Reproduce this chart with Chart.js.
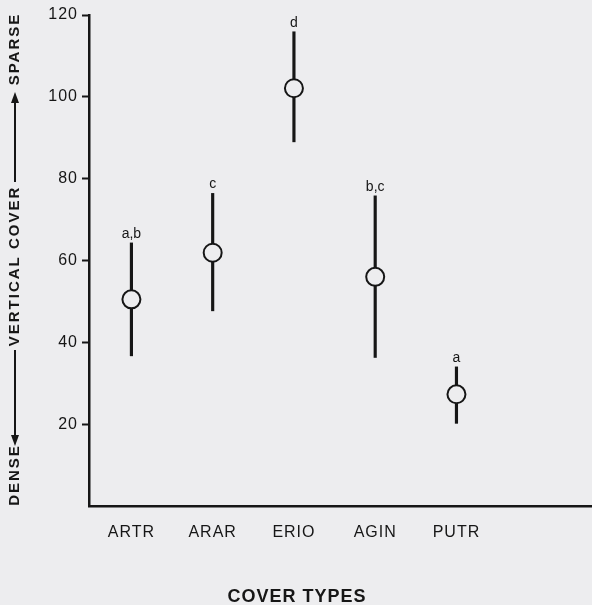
<!DOCTYPE html>
<html>
<head>
<meta charset="utf-8">
<script src="https://cdn.jsdelivr.net/npm/chart.js@4.4.1/dist/chart.umd.min.js"></script>
<style>
  body { margin: 0; background: #ededef; }
  #wrap { width: 592px; height: 605px; }
</style>
</head>
<body>
<div id="wrap"><canvas id="chart-ctx" width="592" height="605"></canvas></div>
<script>
const coverTypes = ["ARTR", "ARAR", "ERIO", "AGIN", "PUTR"];
const meanCover = [50.5, 61.9, 102.1, 56.0, 27.3];
const upperCover = [64.3, 76.4, 115.9, 75.8, 34.0];
const lowerCover = [36.7, 47.7, 89.0, 36.3, 20.2];
const groupLetters = ["a,b", "c", "d", "b,c", "a"];
const yTickValues = [20, 40, 60, 80, 100, 120];

const paper = "#ededef";
const ink = "#161616";

// paper background + letter spacing for the typewriter-ish labels
const paperPlugin = {
    id: "paper",
    beforeDraw(chart) {
        const ctx = chart.ctx;
        ctx.save();
        ctx.fillStyle = paper;
        ctx.fillRect(0, 0, chart.width, chart.height);
        ctx.restore();
        ctx.letterSpacing = "1px";
    }
};

// significance letters above each range line
const letterPlugin = {
    id: "letters",
    afterDatasetsDraw(chart) {
        const ctx = chart.ctx;
        const x = chart.scales.x;
        const y = chart.scales.y;
        ctx.save();
        ctx.fillStyle = ink;
        ctx.font = "14px 'Liberation Sans', Arial, sans-serif";
        ctx.letterSpacing = "0px";
        ctx.textAlign = "center";
        ctx.textBaseline = "alphabetic";
        groupLetters.forEach((txt, i) => {
            ctx.fillText(txt, x.getPixelForValue(i + 1), y.getPixelForValue(upperCover[i]) - 5);
        });
        ctx.restore();
    }
};

function arrowHead(ctx, x, y, dir) {
    ctx.beginPath();
    ctx.moveTo(x, y);
    ctx.lineTo(x - 4, y - dir * 11);
    ctx.lineTo(x + 4, y - dir * 11);
    ctx.closePath();
    ctx.fill();
}

// axis titles: rotated y title with arrows, and the x title
const titlePlugin = {
    id: "titles",
    afterDraw(chart) {
        const ctx = chart.ctx;
        ctx.save();
        ctx.fillStyle = ink;
        ctx.strokeStyle = ink;
        ctx.lineWidth = 2;
        ctx.font = "bold 15px 'Liberation Sans', Arial, sans-serif";
        ctx.letterSpacing = "2px";
        ctx.textAlign = "center";
        ctx.textBaseline = "middle";

        const tx = 15;
        const words = [["SPARSE", 49], ["VERTICAL COVER", 266], ["DENSE", 475]];
        words.forEach(([w, cy]) => {
            ctx.save();
            ctx.translate(tx, cy);
            ctx.rotate(-Math.PI / 2);
            ctx.fillText(w, 0, 0);
            ctx.restore();
        });

        ctx.beginPath();
        ctx.moveTo(tx, 182);
        ctx.lineTo(tx, 100);
        ctx.moveTo(tx, 350);
        ctx.lineTo(tx, 436);
        ctx.stroke();
        arrowHead(ctx, tx, 92, -1);
        arrowHead(ctx, tx, 446, 1);

        ctx.font = "bold 18px 'Liberation Sans', Arial, sans-serif";
        ctx.letterSpacing = "1px";
        ctx.fillText("COVER TYPES", 297, 597);
        ctx.restore();
    }
};

const ctx = document.getElementById("chart-ctx");

new Chart(ctx, {
    data: {
        datasets: [
            {
                type: "scatter",
                label: "Mean",
                data: meanCover.map((v, i) => ({ x: i + 1, y: v })),
                pointRadius: 9,
                pointBorderWidth: 2,
                pointBackgroundColor: paper,
                pointBorderColor: ink,
                clip: false,
                order: 0,
            },
            {
                type: "bar",
                label: "Range",
                data: lowerCover.map((v, i) => ({ x: i + 1, y: [v, upperCover[i]] })),
                backgroundColor: ink,
                barThickness: 2.5,
                clip: false,
                order: 1,
            }
        ]
    },
    options: {
        responsive: false,
        animation: false,
        layout: {
            autoPadding: false,
            padding: { top: 15, right: 0, bottom: 0, left: 0 }
        },
        plugins: {
            legend: { display: false },
            tooltip: { enabled: false },
        },
        scales: {
            x: {
                type: "linear",
                min: 0.478,
                max: 6.668,
                offset: false,
                afterFit: (s) => { s.height = 99; s.paddingLeft = 0; s.paddingRight = 0; },
                afterBuildTicks: (s) => {
                    s.ticks = coverTypes.map((c, i) => ({ value: i + 1 }));
                },
                ticks: {
                    color: ink,
                    padding: 17,
                    maxRotation: 0,
                    autoSkip: false,
                    font: { family: "'Liberation Sans', Arial, sans-serif", size: 16 },
                    callback: (v) => coverTypes[v - 1],
                },
                grid: { drawOnChartArea: false, drawTicks: false, offset: false },
                border: { color: ink, width: 2.5 },
            },
            y: {
                min: 0,
                max: 120,
                afterFit: (s) => { s.width = 89; },
                afterBuildTicks: (s) => {
                    s.ticks = yTickValues.map((v) => ({ value: v }));
                },
                ticks: {
                    color: ink,
                    padding: 4,
                    font: { family: "'Liberation Sans', Arial, sans-serif", size: 16 },
                },
                grid: { drawOnChartArea: false, tickLength: 7, color: ink, tickWidth: 2 },
                border: { color: ink, width: 2.5 },
            }
        }
    },
    plugins: [paperPlugin, letterPlugin, titlePlugin],
});
</script>
</body>
</html>
